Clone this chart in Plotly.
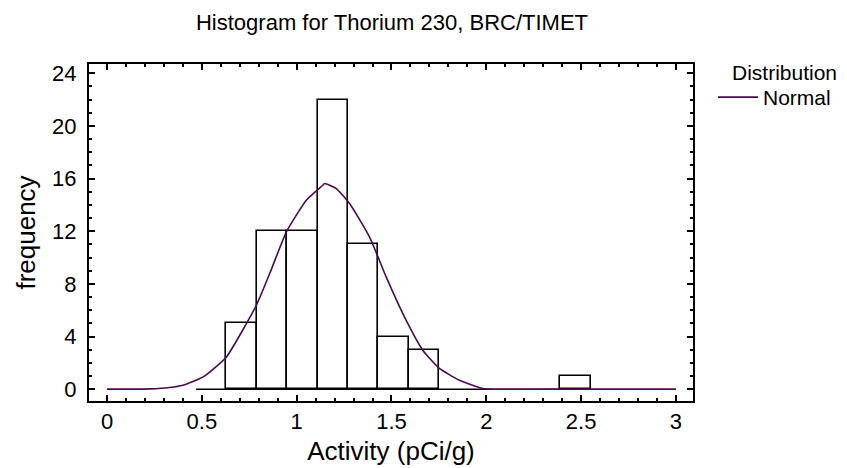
import plotly.graph_objects as go

# Histogram bins (left edges) and counts
bin_left = [0.47, 0.63, 0.79, 0.95, 1.11, 1.27, 1.43, 1.59, 1.75, 1.91, 2.07, 2.23, 2.39]
bin_width = 0.16
counts = [0, 5, 12, 12, 22, 11, 4, 3, 0, 0, 0, 0, 1]

# Fitted normal curve
curve_x = [0.0, 0.1, 0.226, 0.33, 0.40, 0.507, 0.63, 0.735, 0.788, 0.858, 0.946, 1.051,
           1.138, 1.147, 1.209, 1.279, 1.384, 1.472, 1.577, 1.665, 1.753, 1.858, 1.98,
           2.03, 2.5, 3.0]
curve_y = [0.0, 0.0, 0.02, 0.13, 0.3, 0.93, 2.45, 4.98, 6.38, 8.78, 11.95, 14.35,
           15.49, 15.62, 15.24, 14.1, 11.57, 8.53, 5.24, 2.96, 1.57, 0.68, 0.05,
           0.0, 0.0, 0.0]

x_ticks = [0, 0.5, 1, 1.5, 2, 2.5, 3]
x_tick_labels = ["0", "0.5", "1", "1.5", "2", "2.5", "3"]
y_ticks = [0, 4, 8, 12, 16, 20, 24]

centers = [l + bin_width / 2 for l in bin_left]
nz_x = [c for c, n in zip(centers, counts) if n > 0]
nz_y = [n for n in counts if n > 0]

# page offset (default 8px body margin) is absorbed by shrinking the figure
W, H = 839, 460
PL, PR, PT, PB = 89, 694, 64, 401  # plot-area edges in page pixels


def px(xp):
    return (xp - PL) / (PR - PL)


def py(yp):
    return (PB - yp) / (PB - PT)


fig = go.Figure()
fig.add_trace(go.Scatter(
    x=[bin_left[0], bin_left[-1] + bin_width], y=[0, 0], mode="lines",
    line=dict(color="black", width=1.5), showlegend=False, hoverinfo="skip"))
fig.add_trace(go.Bar(
    x=nz_x, y=nz_y, width=bin_width,
    marker=dict(color="rgba(255,255,255,0)", line=dict(color="black", width=1.6)),
    showlegend=False))
fig.add_trace(go.Scatter(
    x=curve_x, y=curve_y, mode="lines", name="Normal",
    line=dict(color="#4d0a4f", width=1.6, shape="spline", smoothing=0.5)))

FS = 22
font = "Liberation Sans, Arial, sans-serif"
fig.update_layout(
    width=W, height=H,
    margin=dict(l=PL - 8, r=W - (PR - 8), t=PT - 8, b=H - (PB - 8)),
    paper_bgcolor="white", plot_bgcolor="white",
    font=dict(family=font, size=FS, color="black"),
    title=dict(text="Histogram for Thorium 230, BRC/TIMET", x=(392 - 8) / W, xanchor="center",
               y=1 - (22 - 8) / H, yanchor="middle", font=dict(size=FS)),
    showlegend=True,
    legend=dict(x=px(713), y=py(77), yanchor="top", xanchor="left",
                font=dict(size=21), bgcolor="rgba(0,0,0,0)", itemwidth=40,
                borderwidth=0),
    bargap=0,
    annotations=[dict(text="Distribution", x=px(786), y=py(72), xref="paper",
                      yref="paper", showarrow=False, xanchor="center", yanchor="middle",
                      font=dict(size=21))],
)
fig.update_xaxes(
    range=[-0.095, 3.09], tickvals=x_ticks, ticktext=x_tick_labels,
    ticks="inside", ticklen=6, tickwidth=1.5, tickcolor="black",
    showline=True, linewidth=2, linecolor="black", mirror="allticks",
    showgrid=False, zeroline=False, automargin=False, ticklabelstandoff=0,
    minor=dict(ticks="inside", ticklen=3, dtick=0.1, tick0=0, tickcolor="black", tickwidth=1.5),
    title=dict(text="Activity (pCi/g)", standoff=8),
)
fig.update_yaxes(
    range=[-0.9, 24.7], tickvals=y_ticks,
    ticks="inside", ticklen=6, tickwidth=1.5, tickcolor="black",
    showline=True, linewidth=2, linecolor="black", mirror="allticks",
    showgrid=False, zeroline=False, automargin=False, ticklabelstandoff=6,
    minor=dict(ticks="inside", ticklen=3, dtick=1, tick0=0, tickcolor="black", tickwidth=1.5),
    title=dict(text="frequency", standoff=9),
)
fig.write_html("out.html")
